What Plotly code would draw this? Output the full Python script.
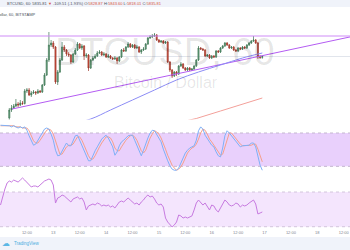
import pandas as pd
import plotly.graph_objects as go

# ---------------- data ----------------
T0 = pd.Timestamp("2017-10-12 00:00")


def t(h):
    return T0 + pd.Timedelta(hours=h)


candle_hours = list(range(4, 120))
first_open = 5344
closes = [
    5408, 5424, 5440, 5456, 5448, 5464, 5460, 5560, 5568, 5528,
    5544, 5552, 5544, 5560, 5552, 5608, 5688, 5808, 5928, 5944,
    5912, 5632, 5712, 5808, 5912, 5888, 5856, 5848, 5792, 5856,
    5888, 5936, 5904, 5920, 5840, 5848, 5744, 5808, 5824, 5840,
    5864, 5872, 5848, 5856, 5832, 5840, 5824, 5816, 5824, 5800,
    5832, 5888, 5880, 5912, 5936, 5912, 5928, 5904, 5912, 5872,
    5888, 5896, 5936, 5984, 5992, 6000, 6008, 5968, 5952, 5960,
    5944, 5952, 5792, 5728, 5680, 5712, 5696, 5760, 5776, 5744,
    5728, 5744, 5728, 5736, 5760, 5808, 5904, 5896, 5888, 5840,
    5848, 5824, 5840, 5832, 5880, 5872, 5904, 5920, 5944, 5928,
    5904, 5912, 5888, 5880, 5904, 5896, 5912, 5904, 5928, 5944,
    5960, 5968, 5944, 5832, 5828.87, 5835.81,
]
highs = [
    5424, 5448, 5456, 5496, 5472, 5488, 5480, 5576, 5584, 5584,
    5560, 5568, 5560, 5576, 5568, 5616, 5704, 5824, 6032, 5968,
    5960, 5920, 5728, 5824, 5952, 5928, 5896, 5872, 5856, 5864,
    5904, 5952, 5944, 5936, 5928, 5864, 5856, 5816, 5840, 5856,
    5880, 5888, 5880, 5872, 5864, 5856, 5848, 5832, 5840, 5832,
    5840, 5896, 5904, 5920, 5952, 5944, 5936, 5936, 5928, 5920,
    5896, 5912, 5944, 5992, 6008, 6016, 6024, 6016, 5976, 5968,
    5968, 5960, 5960, 5800, 5736, 5720, 5720, 5768, 5792, 5784,
    5752, 5752, 5752, 5744, 5768, 5816, 5920, 5912, 5904, 5896,
    5856, 5856, 5848, 5848, 5888, 5888, 5912, 5928, 5952, 5952,
    5936, 5920, 5920, 5896, 5912, 5912, 5920, 5920, 5936, 5952,
    5968, 6000, 5976, 5952, 5848, 5843.60,
]
lows = [
    5328, 5392, 5416, 5432, 5432, 5440, 5448, 5452, 5544, 5520,
    5512, 5536, 5528, 5536, 5544, 5544, 5600, 5680, 5792, 5912,
    5896, 5616, 5608, 5704, 5800, 5872, 5840, 5832, 5776, 5784,
    5848, 5880, 5896, 5888, 5808, 5824, 5720, 5736, 5800, 5816,
    5832, 5856, 5840, 5840, 5824, 5824, 5816, 5808, 5808, 5776,
    5792, 5824, 5872, 5872, 5904, 5904, 5904, 5896, 5896, 5864,
    5856, 5880, 5888, 5928, 5976, 5984, 5992, 5960, 5944, 5944,
    5936, 5936, 5784, 5712, 5664, 5672, 5680, 5688, 5752, 5736,
    5720, 5720, 5720, 5720, 5728, 5752, 5800, 5888, 5880, 5832,
    5832, 5816, 5816, 5824, 5824, 5864, 5864, 5896, 5912, 5920,
    5896, 5896, 5880, 5872, 5872, 5888, 5888, 5896, 5896, 5920,
    5936, 5952, 5936, 5816, 5816, 5818.01,
]
opens = [first_open] + closes[:-1]

indicator_hours = list(range(0, 120))
stoch_k = [
    94, 94, 93, 94, 93, 91, 93, 91, 89, 91,
    89, 91, 85, 75, 66, 58, 60, 67, 73, 80,
    87, 89, 87, 78, 67, 49, 39, 40, 49, 55,
    62, 57, 57, 67, 75, 76, 67, 57, 49, 39,
    30, 30, 40, 48, 55, 62, 69, 73, 76, 71,
    64, 55, 40, 46, 57, 64, 67, 71, 75, 76,
    76, 67, 58, 46, 39, 49, 62, 71, 80, 85,
    84, 78, 71, 64, 51, 39, 30, 21, 15, 13,
    13, 17, 26, 37, 44, 49, 53, 55, 57, 67,
    84, 91, 87, 76, 69, 64, 58, 55, 46, 39,
    37, 53, 75, 84, 80, 75, 69, 66, 60, 55,
    57, 57, 57, 58, 62, 62, 55, 39, 22, 13,
]
stoch_d = [
    93, 93, 94, 94, 93, 93, 93, 91, 91, 91,
    89, 89, 89, 84, 75, 66, 62, 62, 67, 73,
    80, 85, 87, 85, 78, 66, 51, 42, 42, 48,
    55, 58, 58, 60, 66, 73, 73, 67, 58, 48,
    39, 33, 33, 39, 48, 55, 62, 67, 73, 73,
    71, 64, 53, 48, 48, 55, 62, 67, 71, 75,
    76, 73, 67, 57, 48, 44, 49, 60, 71, 78,
    84, 82, 78, 71, 62, 51, 40, 30, 22, 17,
    13, 15, 19, 26, 35, 44, 49, 53, 55, 60,
    69, 80, 87, 85, 78, 69, 64, 58, 53, 46,
    40, 42, 55, 71, 80, 80, 75, 69, 66, 60,
    57, 57, 57, 57, 58, 60, 60, 51, 38, 28,
]
rsi = [
    55.0, 65.4, 73.5, 80.4, 82.7, 81.5, 83.8, 82.7, 81.5, 83.8,
    86.2, 83.8, 81.5, 78.1, 75.8, 76.9, 76.9, 75.8, 78.1, 80.4,
    82.7, 83.8, 85.0, 83.8, 78.1, 57.3, 63.1, 64.3, 66.5, 65.4,
    63.1, 60.8, 58.5, 62.0, 63.1, 64.3, 62.0, 63.1, 58.5, 49.3,
    53.9, 55.0, 56.2, 55.0, 57.3, 56.2, 53.9, 55.0, 53.9, 55.0,
    52.7, 53.9, 51.6, 55.0, 58.5, 59.6, 58.5, 60.8, 63.1, 60.8,
    58.5, 56.2, 57.3, 55.0, 58.5, 60.8, 64.3, 66.5, 64.3, 65.4,
    62.0, 57.3, 55.0, 56.2, 52.7, 40.0, 35.4, 32.0, 29.7, 32.0,
    35.4, 43.5, 42.4, 40.0, 41.2, 40.0, 41.2, 42.4, 49.3, 57.3,
    60.8, 57.3, 55.0, 57.3, 53.9, 49.3, 55.0, 53.9, 49.3, 47.0,
    51.6, 56.2, 60.8, 58.5, 55.0, 53.9, 55.0, 57.3, 56.2, 52.7,
    55.0, 53.9, 55.0, 57.3, 59.6, 60.8, 56.2, 44.7, 45.8, 47.0,
]

ma_blue_hours = [30, 41, 50, 60, 70, 80, 90, 100, 110, 119]
ma_blue = [5288, 5336, 5408, 5488, 5568, 5648, 5712, 5768, 5824, 5864]
ma_red_hours = [80, 89, 100, 110, 119]
ma_red = [5304, 5340, 5400, 5456, 5504]
trend_hours = [5.25, 163]
trend_prices = [5416, 6008]
resistance = 6000
stoch_band = [20, 80]
rsi_band = [30, 70]

tick_hours = [0, 12, 24, 36, 48, 60, 72, 84, 96, 108, 120, 132, 144, 156]
tick_text = ["12", "12:00", "13", "12:00", "14", "12:00", "15", "12:00",
             "16", "12:00", "17", "12:00", "18", "12:00"]

title_main = ("BTCUSD, 60: 5835.81 <span style='color:#d75442'>▼</span> -109.51 (-1.93%) "
              "O:<span style='color:#d75442'>5828.87</span> H:<span style='color:#d75442'>5843.60</span> "
              "L:<span style='color:#d75442'>5818.01</span> C:<span style='color:#d75442'>5835.81</span>")
title_sub = "Bitcoin / Dollar, 60, BITSTAMP"

# ---------------- layout helpers ----------------
W, H = 350, 250
PLOT_H = 229


def py(p):
    return (PLOT_H - p) / PLOT_H


fig = go.Figure()

fig.add_trace(go.Scatter(x=[t(h) for h in trend_hours], y=trend_prices, mode="lines",
                         line=dict(color="#b45cf2", width=1), hoverinfo="skip", yaxis="y"))
fig.add_trace(go.Scatter(x=[t(h) for h in ma_blue_hours], y=ma_blue, mode="lines",
                         line=dict(color="#8c8cf5", width=1, shape="spline"), yaxis="y"))
fig.add_trace(go.Scatter(x=[t(h) for h in ma_red_hours], y=ma_red, mode="lines",
                         line=dict(color="#f3a09a", width=1), yaxis="y"))
fig.add_trace(go.Candlestick(
    x=[t(h) for h in candle_hours], open=opens, high=highs, low=lows, close=closes,
    increasing=dict(fillcolor="#6ba583", line=dict(color="#3d7553", width=0.7)),
    decreasing=dict(fillcolor="#d75442", line=dict(color="#9c3528", width=0.7)),
    yaxis="y", whiskerwidth=0))

fig.add_trace(go.Scatter(x=[t(h) for h in indicator_hours], y=stoch_d, mode="lines",
                         line=dict(color="#f5a08c", width=1), yaxis="y2"))
fig.add_trace(go.Scatter(x=[t(h) for h in indicator_hours], y=stoch_k, mode="lines",
                         line=dict(color="#7fb0f7", width=1), yaxis="y2"))
fig.add_trace(go.Scatter(x=[t(h) for h in indicator_hours], y=rsi, mode="lines",
                         line=dict(color="#c77ae0", width=1), yaxis="y3"))

shapes = [
    dict(type="rect", xref="paper", yref="paper", x0=0, x1=1, y0=py(7), y1=1,
         fillcolor="#f0f3fa", line=dict(width=0), layer="below"),
    dict(type="rect", xref="paper", yref="paper", x0=0, x1=1, y0=py(250), y1=py(237),
         fillcolor="#f0f3fa", line=dict(width=0), layer="below"),
    dict(type="rect", xref="paper", yref="y2", x0=0, x1=1, y0=stoch_band[0], y1=stoch_band[1],
         fillcolor="#e9d0fc", line=dict(width=0), layer="below"),
    dict(type="rect", xref="paper", yref="y3", x0=0, x1=1, y0=rsi_band[0], y1=rsi_band[1],
         fillcolor="#f4e5fd", line=dict(width=0), layer="below"),
    dict(type="line", xref="paper", yref="y", x0=0, x1=1, y0=closes[-1], y1=closes[-1],
         line=dict(color="#e1e5ec", width=1), layer="below"),
    dict(type="line", xref="paper", yref="y", x0=0, x1=1, y0=resistance, y1=resistance,
         line=dict(color="#cf8cf7", width=1)),
]
for v in stoch_band:
    shapes.append(dict(type="line", xref="paper", yref="y2", x0=0, x1=1, y0=v, y1=v,
                       line=dict(color="#c4b6cf", width=1, dash="dot"), layer="below"))
for v in rsi_band:
    shapes.append(dict(type="line", xref="paper", yref="y3", x0=0, x1=1, y0=v, y1=v,
                       line=dict(color="#d2c6dc", width=1, dash="dot"), layer="below"))

annotations = [
    dict(text="BTCUSD, 60", xref="paper", yref="paper", x=165 / W, y=py(52),
         xanchor="center", yanchor="middle", showarrow=False,
         font=dict(family="Liberation Sans", size=38, color="rgba(0,0,0,0.10)")),
    dict(text="Bitcoin / Dollar", xref="paper", yref="paper", x=166 / W, y=py(83),
         xanchor="center", yanchor="middle", showarrow=False,
         font=dict(family="Liberation Sans", size=16, color="rgba(0,0,0,0.10)")),
    dict(text=title_main, xref="paper", yref="paper", x=164 / W, y=py(3.8),
         xanchor="right", yanchor="middle", showarrow=False,
         font=dict(family="Liberation Sans", size=4, color="#4a505a")),
    dict(text=title_sub, xref="paper", yref="paper", x=37 / W, y=py(14),
         xanchor="right", yanchor="middle", showarrow=False,
         font=dict(family="Liberation Sans", size=4, color="#4a505a")),
    dict(text="☁", xref="paper", yref="paper", x=5.5 / W, y=py(243.5),
         xanchor="center", yanchor="middle", showarrow=False,
         font=dict(family="DejaVu Sans", size=8, color="#5bb7e5")),
    dict(text="TradingView", xref="paper", yref="paper", x=12 / W, y=py(243.5),
         xanchor="left", yanchor="middle", showarrow=False,
         font=dict(family="Liberation Sans", size=4.5, color="#4aaee0")),
]

axis_off = dict(showgrid=False, zeroline=False, showticklabels=False, showline=False,
                ticks="", fixedrange=True)

fig.update_layout(
    width=W, height=H, autosize=False,
    margin=dict(l=0, r=0, t=0, b=H - PLOT_H, pad=0),
    paper_bgcolor="white", plot_bgcolor="rgba(0,0,0,0)",
    showlegend=False,
    shapes=shapes, annotations=annotations,
    xaxis=dict(range=[t(-0.5 / 2.2), t((W - 0.5) / 2.2)], tickmode="array",
               tickvals=[t(h) for h in tick_hours], ticktext=tick_text,
               showgrid=False, zeroline=False, showline=False, ticks="",
               tickfont=dict(family="Liberation Sans", size=4, color="#7f8590"),
               anchor="free", position=0, rangeslider=dict(visible=False)),
    yaxis=dict(domain=[py(119.5), py(7)], range=[5332, 6232], **axis_off),
    yaxis2=dict(domain=[py(177), py(120)], range=[0.8, 103.4], anchor="x", **axis_off),
    yaxis3=dict(domain=[0, py(177)], range=[27.36, 87.32], anchor="x", **axis_off),
)

fig.write_html("out.html", config={"displayModeBar": False})
